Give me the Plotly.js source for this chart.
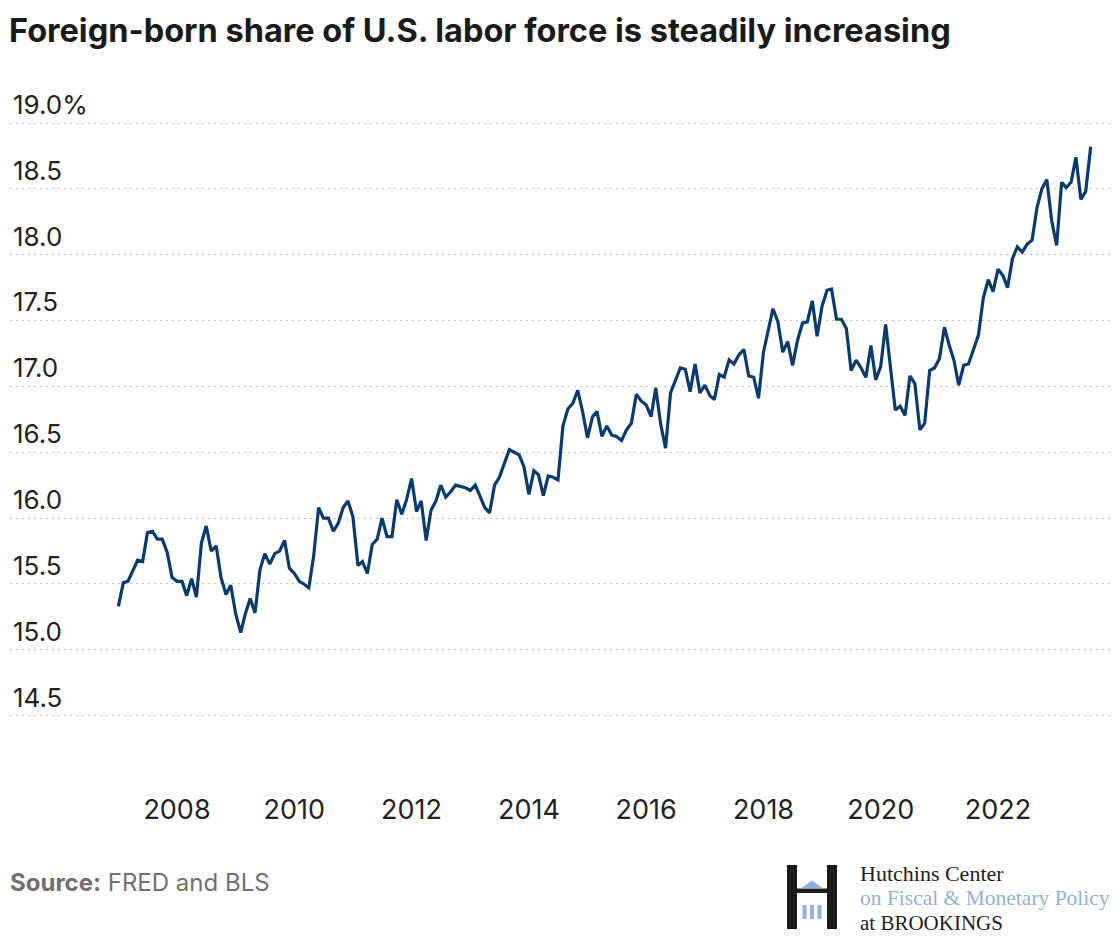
<!DOCTYPE html>
<html>
<head>
<meta charset="utf-8">
<script src="https://cdn.plot.ly/plotly-3.0.1.min.js"></script>
<style>
  html, body { margin: 0; padding: 0; background: #ffffff; }
  #chart { width: 1120px; height: 938px; }
</style>
</head>
<body>
<div id="chart"></div>
<script>
// ---------------- data ----------------
const startYear = 2007;      // first observation: January 2007, monthly
const shareValues = [
  // 2007
  15.33, 15.51, 15.52, 15.60, 15.68, 15.67, 15.89, 15.90, 15.84, 15.84, 15.74, 15.55,
  // 2008
  15.52, 15.52, 15.41, 15.54, 15.40, 15.81, 15.94, 15.75, 15.79, 15.55, 15.42, 15.49,
  // 2009
  15.27, 15.13, 15.27, 15.39, 15.28, 15.61, 15.73, 15.65, 15.73, 15.75, 15.83, 15.62,
  // 2010
  15.58, 15.52, 15.50, 15.47, 15.71, 16.08, 16.00, 16.00, 15.90, 15.96, 16.08, 16.13,
  // 2011
  16.01, 15.64, 15.67, 15.58, 15.80, 15.84, 16.00, 15.86, 15.86, 16.14, 16.03, 16.14,
  // 2012
  16.30, 16.05, 16.13, 15.83, 16.06, 16.13, 16.25, 16.16, 16.20, 16.25, 16.24, 16.23,
  // 2013
  16.21, 16.25, 16.17, 16.08, 16.04, 16.25, 16.31, 16.41, 16.52, 16.50, 16.48, 16.39,
  // 2014
  16.18, 16.36, 16.33, 16.17, 16.32, 16.31, 16.29, 16.70, 16.83, 16.87, 16.97, 16.81,
  // 2015
  16.61, 16.77, 16.81, 16.62, 16.70, 16.63, 16.62, 16.59, 16.67, 16.72, 16.94, 16.89,
  // 2016
  16.86, 16.77, 16.99, 16.71, 16.53, 16.95, 17.04, 17.14, 17.13, 16.96, 17.17, 16.95,
  // 2017
  17.01, 16.93, 16.90, 17.09, 17.07, 17.20, 17.17, 17.24, 17.28, 17.08, 17.07, 16.91,
  // 2018
  17.26, 17.42, 17.59, 17.49, 17.26, 17.34, 17.16, 17.35, 17.48, 17.49, 17.65, 17.38,
  // 2019
  17.61, 17.73, 17.74, 17.51, 17.51, 17.44, 17.12, 17.20, 17.14, 17.07, 17.31, 17.05,
  // 2020
  17.15, 17.47, 17.14, 16.82, 16.85, 16.78, 17.08, 17.02, 16.67, 16.72, 17.12, 17.14,
  // 2021
  17.21, 17.45, 17.32, 17.20, 17.01, 17.16, 17.17, 17.28, 17.39, 17.67, 17.81, 17.72,
  // 2022
  17.89, 17.84, 17.75, 17.97, 18.06, 18.02, 18.08, 18.11, 18.36, 18.50, 18.57, 18.26,
  // 2023
  18.07, 18.55, 18.51, 18.55, 18.74, 18.42, 18.48, 18.82
];
const yTickValues = [14.5, 15.0, 15.5, 16.0, 16.5, 17.0, 17.5, 18.0, 18.5, 19.0];
const yTickLabels = ["14.5", "15.0", "15.5", "16.0", "16.5", "17.0", "17.5", "18.0", "18.5", "19.0%"];
const xTickYears  = [2008, 2010, 2012, 2014, 2016, 2018, 2020, 2022];

const titleText  = "Foreign-born share of U.S. labor force is steadily increasing";
const sourceText = "<b>Source:</b> FRED and BLS";
const logoLines  = ["Hutchins Center", "on Fiscal &amp; Monetary Policy", "at BROOKINGS"];

// month dates for the series
const pad = n => (n < 10 ? "0" + n : "" + n);
const monthDates = shareValues.map((_, i) => {
  const y = startYear + Math.floor(i / 12);
  const m = (i % 12) + 1;
  return y + "-" + pad(m) + "-01";
});

// ---------------- layout geometry ----------------
const W = 1120, H = 938;
const M = { l: 10, r: 10, t: 80, b: 178 };
const plotW = W - M.l - M.r, plotH = H - M.t - M.b;
const px2x = px => (px - M.l) / plotW;
const py2y = py => (H - M.b - py) / plotH;

// x range: Jan 2007 sits at 118px, ~58.64px per year
const msYear = 365.25 * 86400000;
const pxPerYear = 58.64;
const t0 = Date.UTC(2007, 0, 1);
const xLeft  = t0 - ((118.4 - M.l) / pxPerYear) * msYear;
const xRight = xLeft + (plotW / pxPerYear) * msYear;
const iso = ms => new Date(ms).toISOString().slice(0, 19).replace("T", " ");

// y range: 19.0 gridline at 123px, 131.7px per point
const pxPerUnit = 131.7;
const yTop = 19 + (123 - M.t) / pxPerUnit;
const yBottom = yTop - plotH / pxPerUnit;

const FONT = "Inter, Roboto, 'Noto Sans', sans-serif";
const SERIF = "'Liberation Serif', 'DejaVu Serif', serif";
const navy = "#0b3a6c";
const black = "#1c1c1c";
const blue = "#8fb0dc";

const trace = {
  x: monthDates,
  y: shareValues,
  type: "scatter",
  mode: "lines",
  line: { color: navy, width: 3.2, shape: "linear" },
  hoverinfo: "x+y"
};

// logo shapes (decorative)
const rect = (x0, y0, x1, y1, color) => ({
  type: "rect", xref: "paper", yref: "paper",
  x0: px2x(x0), x1: px2x(x1), y0: py2y(y1), y1: py2y(y0),
  fillcolor: color, line: { width: 0 }, layer: "above"
});
const shapes = [
  rect(787, 865, 797, 929, black),
  rect(827, 865, 837, 929, black),
  rect(797, 888.5, 827, 893, black),
  {
    type: "path", xref: "paper", yref: "paper",
    path: "M " + px2x(801.5) + "," + py2y(888) + " L " + px2x(812) + "," + py2y(880.5) +
          " L " + px2x(822.5) + "," + py2y(888) + " Z",
    fillcolor: blue, line: { width: 0 }
  },
  rect(802.5, 905, 806.5, 919, blue),
  rect(810, 905, 814, 919, blue),
  rect(817.5, 905, 821.5, 919, blue)
];

const ann = (text, px, py, size, color, family) => ({
  text: text, xref: "paper", yref: "paper",
  x: px2x(px), y: py2y(py), xanchor: "left", yanchor: "middle",
  showarrow: false, align: "left",
  font: { family: family, size: size, color: color }
});
const annotations = [
  ann(sourceText, 8, 882, 24, "#707070", FONT),
  ann(logoLines[0], 858, 873, 22, black, SERIF),
  ann(logoLines[1], 858, 898, 21.5, blue, SERIF),
  ann(logoLines[2], 858, 923, 21, black, SERIF)
];

const layout = {
  width: W, height: H,
  margin: M,
  paper_bgcolor: "#ffffff",
  plot_bgcolor: "#ffffff",
  showlegend: false,
  title: {
    text: "<b>" + titleText + "</b>",
    x: 9 / W, xanchor: "left", xref: "container",
    y: 1 - 31 / H, yanchor: "middle", yref: "container",
    font: { family: FONT, size: 32.5, color: "#1a1a1a" }
  },
  xaxis: {
    type: "date",
    range: [iso(xLeft), iso(xRight)],
    tickvals: xTickYears.map(y => y + "-01-01"),
    ticktext: xTickYears.map(String),
    showgrid: false, zeroline: false, showline: false,
    ticks: "outside", ticklen: 26, tickcolor: "rgba(0,0,0,0)",
    tickfont: { family: FONT, size: 27, color: "#222222" },
    fixedrange: true
  },
  yaxis: {
    range: [yBottom, yTop],
    tickvals: yTickValues,
    ticktext: yTickLabels,
    ticklabelposition: "inside top",
    showgrid: true, gridcolor: "#c4c4c4", gridwidth: 1, griddash: "2px,4px",
    zeroline: false, showline: false, ticks: "",
    tickfont: { family: FONT, size: 26, color: "#222222" },
    fixedrange: true
  },
  shapes: shapes,
  annotations: annotations
};

Plotly.newPlot("chart", [trace], layout, { displayModeBar: false, staticPlot: true });
</script>
</body>
</html>
